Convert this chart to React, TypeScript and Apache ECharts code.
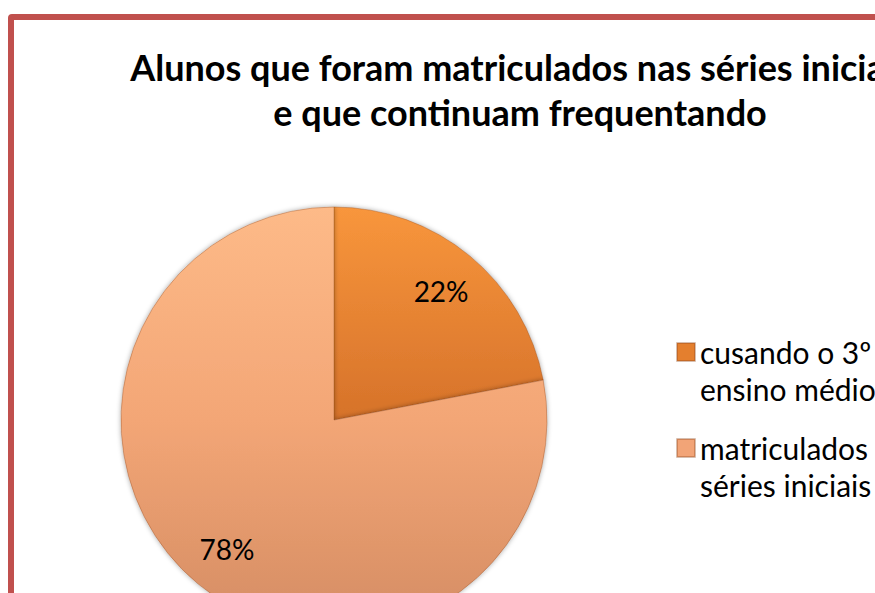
import React, { useEffect, useRef } from "react";
import * as echarts from "echarts";

const titleLines = [
  "Alunos que foram matriculados nas séries iniciais",
  "e que continuam frequentando",
];
const categories = [
  "cusando o 3º ano do ensino médio",
  "matriculados nas séries iniciais",
];
const legendLines = [
  ["cusando o 3º ano do", "ensino médio"],
  ["matriculados nas", "séries iniciais"],
];
const values = [22, 78];

const FONT = "Lato";

export default function App() {
  const ref = useRef<HTMLDivElement>(null);

  useEffect(() => {
    if (!ref.current) return;
    const chart = echarts.init(ref.current, null, { renderer: "svg" });
    const sliceColors = [
      new echarts.graphic.LinearGradient(0, 0, 0, 1, [
        { offset: 0, color: "#f8963c" },
        { offset: 1, color: "#d6722a" },
      ]),
      new echarts.graphic.LinearGradient(0, 0, 0, 1, [
        { offset: 0, color: "#fdba88" },
        { offset: 0.5, color: "#f3a676" },
        { offset: 1, color: "#d48c63" },
      ]),
    ];
    const legendIconColors = ["#e47f2e", "#f2a477"];
    const LH = 37;
    const legendTops = [352 - 20 - 1.5 * LH, 448 - 20 - 1.5 * LH];
    chart.setOption({
      animation: false,
      title: {
        text: titleLines.join("\n"),
        left: "center",
        top: 24,
        padding: 0,
        textStyle: {
          fontFamily: FONT,
          fontWeight: "bold",
          fontSize: 36,
          lineHeight: 45,
          color: "#000",
        },
      },
      legend: categories.map((name, i) => ({
        data: [{ name, itemStyle: { color: legendIconColors[i] } }],
        orient: "vertical",
        left: 662,
        top: legendTops[i],
        padding: 0,
        itemWidth: 18,
        itemHeight: 18,
        itemGap: 0,
        icon: "rect",
        selectedMode: false,
        formatter: () => "\n" + legendLines[i].join("\n"),
        textStyle: {
          fontFamily: FONT,
          fontSize: 30,
          lineHeight: LH,
          color: "#000",
        },
      })),
      series: [
        {
          type: "pie",
          center: [320, 400],
          radius: 213,
          startAngle: 90,
          clockwise: true,
          label: { show: false },
          labelLine: { show: false },
          emphasis: { disabled: true },
          itemStyle: {
            borderColor: "rgba(140,70,25,0.35)",
            borderWidth: 1,
            shadowBlur: 5,
            shadowColor: "rgba(0,0,0,0.35)",
          },
          data: categories.map((name, i) => ({
            name,
            value: values[i],
            itemStyle: { color: sliceColors[i] },
          })),
        },
        {
          type: "pie",
          center: [320, 400],
          radius: [117, 213],
          startAngle: 90,
          clockwise: true,
          silent: true,
          emphasis: { disabled: true },
          itemStyle: { color: "rgba(0,0,0,0)" },
          labelLine: { show: false },
          label: {
            show: true,
            position: "inside",
            formatter: "{c}%",
            fontFamily: FONT,
            fontSize: 28,
            color: "#000",
          },
          data: categories.map((name, i) => ({ name, value: values[i] })),
        },
      ],
    });
    return () => chart.dispose();
  }, []);

  return (
    <div
      style={{
        position: "fixed",
        left: 0,
        top: 0,
        width: 875,
        height: 593,
        overflow: "hidden",
        background: "#fff",
      }}
    >
      <div
        style={{
          position: "absolute",
          left: 8,
          top: 14,
          width: 1012,
          height: 700,
          border: "6px solid #c0504d",
          borderRadius: 4,
          background: "#fff",
        }}
      >
        <div ref={ref} style={{ width: 1012, height: 700 }} />
      </div>
    </div>
  );
}
